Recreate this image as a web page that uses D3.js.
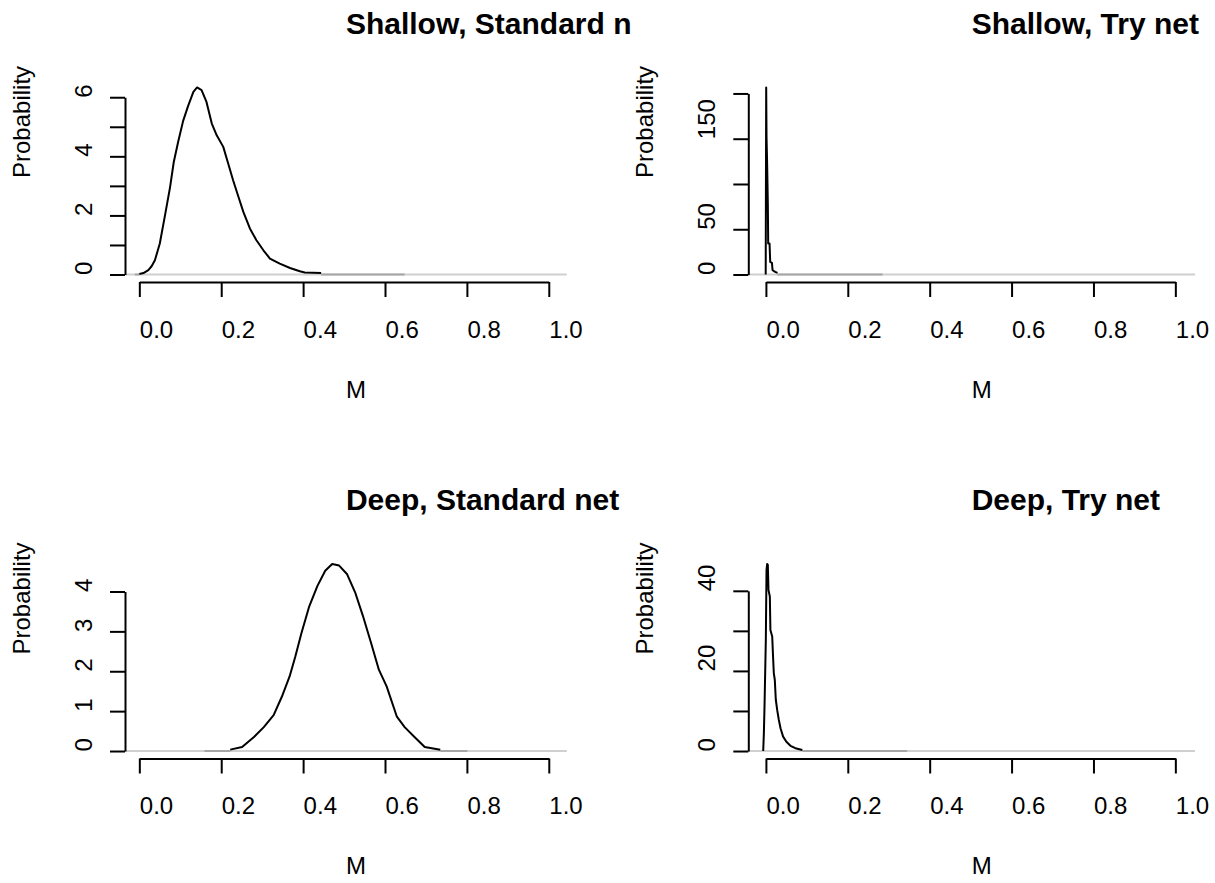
<!DOCTYPE html>
<html>
<head>
  <meta charset="utf-8">
  <title>M posterior densities</title>
  <style>
    body { margin: 0; background: #fff; }
    svg { display: block; font-family: "Liberation Sans", Arial, sans-serif; }
  </style>
</head>
<body>
  <svg width="1215" height="883"></svg>
  <script src="https://d3js.org/d3.v7.min.js"></script>
  <script>
  // data
  const titles = ["Shallow, Standard net", "Shallow, Try net", "Deep, Standard net", "Deep, Try net"];
  const xTicks = [0, 0.2, 0.4, 0.6, 0.8, 1.0];
  const xTickLabels = ["0.0", "0.2", "0.4", "0.6", "0.8", "1.0"];

  const shallowStdX = [0.000, 0.010, 0.022, 0.030, 0.038, 0.050, 0.062, 0.075, 0.084, 0.095, 0.107, 0.119, 0.132, 0.141, 0.152, 0.164, 0.177, 0.189, 0.205, 0.217, 0.229, 0.242, 0.254, 0.270, 0.286, 0.303, 0.319, 0.343, 0.368, 0.392, 0.404, 0.444];
  const shallowStdY = [0.02, 0.05, 0.15, 0.28, 0.48, 1.05, 1.95, 2.95, 3.8, 4.5, 5.2, 5.7, 6.18, 6.33, 6.24, 5.84, 5.11, 4.71, 4.32, 3.76, 3.19, 2.63, 2.12, 1.56, 1.16, 0.82, 0.54, 0.37, 0.22, 0.11, 0.07, 0.05];
  const shallowStdTails = [[-0.011, 0.000], [0.444, 0.648]];

  const shallowTryX = [-0.0005, 0.0007, 0.0015, 0.003, 0.0047, 0.0056, 0.0089, 0.0105, 0.0147, 0.0163, 0.0227, 0.0283];
  const shallowTryY = [0, 206.6, 152, 122.6, 78.5, 34.3, 34.3, 13.9, 12.8, 4.75, 2.9, 1.8];
  const shallowTryTails = [[0.028, 0.285]];

  const deepStdX = [0.222, 0.251, 0.280, 0.304, 0.328, 0.348, 0.367, 0.381, 0.396, 0.415, 0.435, 0.454, 0.471, 0.488, 0.507, 0.527, 0.546, 0.566, 0.585, 0.604, 0.629, 0.648, 0.672, 0.697, 0.735];
  const deepStdY = [0.035, 0.10, 0.35, 0.60, 0.90, 1.36, 1.87, 2.37, 2.96, 3.63, 4.14, 4.52, 4.69, 4.65, 4.44, 3.98, 3.39, 2.71, 2.04, 1.62, 0.86, 0.60, 0.35, 0.10, 0.03];
  const deepStdTails = [[0.159, 0.222], [0.735, 0.801]];

  const deepTryX = [-0.0066, -0.005, -0.0034, -0.0002, 0.0015, 0.003, 0.0047, 0.0063, 0.0096, 0.011, 0.0154, 0.0178, 0.0193, 0.0217, 0.0242, 0.0276, 0.0315, 0.0357, 0.042, 0.050, 0.060, 0.072, 0.089];
  const deepTryY = [0, 4.4, 11.1, 27.8, 45.2, 46.7, 46.5, 40.2, 38.6, 30.2, 28.6, 22.8, 19.4, 17.8, 12.8, 10.2, 7.8, 5.7, 3.6, 2.3, 1.3, 0.7, 0.25];
  const deepTryTails = [[0.089, 0.345]];

  const yTicksShallowStd = [0, 1, 2, 3, 4, 5, 6];
  const yLabelsShallowStd = ["0", "", "2", "", "4", "", "6"];
  const yTicksShallowTry = [0, 50, 100, 150, 200];
  const yLabelsShallowTry = ["0", "50", "", "150", ""];
  const yTicksDeepStd = [0, 1, 2, 3, 4];
  const yLabelsDeepStd = ["0", "1", "2", "3", "4"];
  const yTicksDeepTry = [0, 10, 20, 30, 40];
  const yLabelsDeepTry = ["0", "", "20", "", "40"];

  // layout
  const cols = [
    { left: 125, right: 566.8, xDomain: [-0.035, 1.044], clip: 631 },
    { left: 748.3, right: 1195, xDomain: [-0.043, 1.048], clip: 1215 }
  ];
  const rows = [{ top: 80, bottom: 282 }, { top: 556.5, bottom: 758.5 }];

  const panels = [
    { title: titles[0], xs: shallowStdX, ys: shallowStdY, tails: shallowStdTails, yt: yTicksShallowStd, yl: yLabelsShallowStd, c: 0, r: 0 },
    { title: titles[1], xs: shallowTryX, ys: shallowTryY, tails: shallowTryTails, yt: yTicksShallowTry, yl: yLabelsShallowTry, c: 1, r: 0 },
    { title: titles[2], xs: deepStdX, ys: deepStdY, tails: deepStdTails, yt: yTicksDeepStd, yl: yLabelsDeepStd, c: 0, r: 1 },
    { title: titles[3], xs: deepTryX, ys: deepTryY, tails: deepTryTails, yt: yTicksDeepTry, yl: yLabelsDeepTry, c: 1, r: 1 }
  ];

  const svg = d3.select("svg");
  svg.append("rect").attr("width", 1215).attr("height", 883).attr("fill", "#fff");

  panels.forEach(function(p, i) {
    let col = cols[p.c], row = rows[p.r];
    let ymax = d3.max(p.ys);
    let x = d3.scaleLinear().domain(col.xDomain).range([col.left, col.right]);
    let y = d3.scaleLinear().domain([-0.04 * ymax, 1.04 * ymax]).range([row.bottom, row.top]);
    let g = svg.append("g");

    // h = 0 reference line across the plot region
    g.append("line")
      .attr("x1", col.left).attr("x2", col.right)
      .attr("y1", y(0)).attr("y2", y(0))
      .attr("stroke", "#d0d0d0").attr("stroke-width", 2);

    // grey tails of the density
    g.selectAll(".tail").data(p.tails).enter().append("line")
      .attr("class", "tail")
      .attr("x1", d => x(d[0])).attr("x2", d => x(d[1]))
      .attr("y1", y(0)).attr("y2", y(0))
      .attr("stroke", "#a6a6a6").attr("stroke-width", 2);

    let line = d3.line().x(d => x(d[0])).y(d => y(d[1]));
    g.append("path")
      .datum(d3.zip(p.xs, p.ys))
      .attr("d", line)
      .attr("fill", "none")
      .attr("stroke", "#000")
      .attr("stroke-width", 2)
      .attr("stroke-linejoin", "round");

    // x axis (line only between first and last tick)
    let xa = d3.scaleLinear().domain([0, 1]).range([x(0), x(1)]);
    let gx = g.append("g")
      .attr("transform", "translate(0," + row.bottom + ")")
      .call(d3.axisBottom(xa).tickValues(xTicks).tickFormat((d, k) => xTickLabels[k]).tickSize(15).tickSizeOuter(0));
    gx.selectAll("path, line").attr("stroke", "#000").attr("stroke-width", 2);
    gx.selectAll("text")
      .attr("y", 55.5).attr("dy", 0).attr("x", 0)
      .attr("text-anchor", "start")
      .attr("font-size", 24).attr("fill", "#000");
    gx.attr("font-family", null);

    // y axis
    let last = p.yt[p.yt.length - 1];
    let ya = d3.scaleLinear().domain([0, last]).range([y(0), y(last)]);
    let gy = g.append("g")
      .attr("transform", "translate(" + col.left + ",0)")
      .call(d3.axisLeft(ya).tickValues(p.yt).tickFormat((d, k) => p.yl[k]).tickSize(15).tickSizeOuter(0));
    gy.selectAll("path, line").attr("stroke", "#000").attr("stroke-width", 2);
    gy.selectAll("text")
      .attr("x", 0).attr("y", 0).attr("dy", 0)
      .attr("transform", "translate(-33,0) rotate(-90)")
      .attr("text-anchor", "start")
      .attr("font-size", 24).attr("fill", "#000");
    gy.attr("font-family", null);

    let cx = (col.left + col.right) / 2;
    let cy = (row.top + row.bottom) / 2;

    g.append("text")
      .attr("x", cx).attr("y", row.bottom + 115.5)
      .attr("font-size", 24)
      .text("M");

    g.append("text")
      .attr("transform", "translate(" + (col.left - 95.5) + "," + (cy - 3) + ") rotate(-90)")
      .attr("font-size", 24)
      .text("Probability");

    svg.append("clipPath").attr("id", "clip" + i)
      .append("rect").attr("x", 0).attr("y", 0).attr("width", col.clip).attr("height", 883);
    svg.append("text")
      .attr("clip-path", "url(#clip" + i + ")")
      .attr("x", cx).attr("y", row.top - 46.5)
      .attr("font-size", 30).attr("font-weight", "bold")
      .text(p.title);
  });
  </script>
</body>
</html>
